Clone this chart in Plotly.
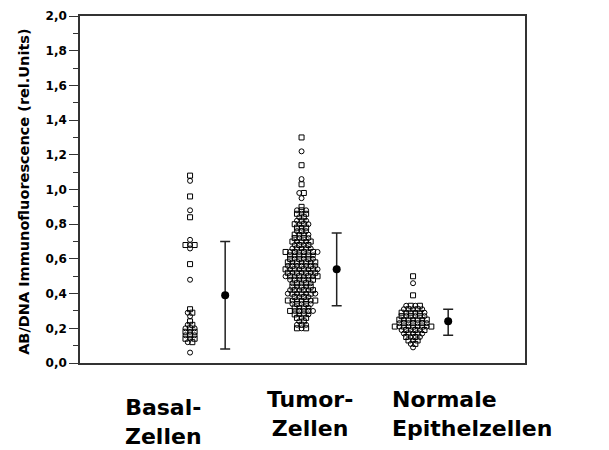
import plotly.graph_objects as go

categories = ["Basal-Zellen", "Tumor-Zellen", "Normale Epithelzellen"]
category_labels = ["Basal-<br>Zellen", "Tumor-<br>Zellen", "Normale<br>Epithelzellen"]

# dot-plot rows: value level and number of points at that level
basal_levels = [1.08, 1.05, 0.96, 0.88, 0.84, 0.71, 0.68, 0.66, 0.57, 0.48,
                0.31, 0.29, 0.27, 0.24, 0.22, 0.20, 0.18, 0.16, 0.14, 0.12, 0.06]
basal_counts = [1, 1, 1, 1, 1, 1, 3, 1, 1, 1,
                1, 2, 1, 1, 2, 3, 3, 3, 3, 2, 1]

tumor_levels = [1.30, 1.22, 1.14, 1.06, 1.03, 0.98, 0.95, 0.90, 0.88, 0.86,
                0.84, 0.82, 0.80, 0.78, 0.76, 0.74, 0.72, 0.70, 0.68, 0.66,
                0.64, 0.62, 0.60, 0.58, 0.56, 0.54, 0.52, 0.50, 0.48, 0.46,
                0.44, 0.42, 0.40, 0.38, 0.36, 0.34, 0.32, 0.30, 0.28, 0.26,
                0.24, 0.22, 0.20]
tumor_counts = [1, 1, 1, 1, 1, 2, 1, 1, 3, 3,
                2, 3, 4, 3, 3, 4, 4, 5, 4, 5,
                8, 6, 6, 7, 7, 8, 7, 8, 6, 5,
                5, 6, 7, 4, 7, 5, 4, 6, 4, 3,
                2, 3, 3]

normal_levels = [0.50, 0.46, 0.39, 0.33, 0.31, 0.29, 0.27, 0.25, 0.23, 0.21,
                 0.19, 0.17, 0.15, 0.13, 0.11, 0.09]
normal_counts = [1, 1, 1, 4, 5, 6, 6, 7, 7, 9,
                 6, 5, 4, 3, 2, 1]

# summary (mean and spread)
means = [0.39, 0.54, 0.24]
upper = [0.70, 0.75, 0.31]
lower = [0.08, 0.33, 0.16]

y_ticks = [0.0, 0.2, 0.4, 0.6, 0.8, 1.0, 1.2, 1.4, 1.6, 1.8, 2.0]
y_title = "AB/DNA Immunofluorescence (rel.Units)"

STEP = 0.041
ERR_OFFSET = 0.315
FONT = "DejaVu Sans, Liberation Sans, Arial"


def swarm(levels, counts, center):
    xs, ys, syms = [], [], []
    k = 0
    for v, n in zip(levels, counts):
        for i in range(n):
            xs.append(center + (i - (n - 1) / 2) * STEP)
            ys.append(v)
            syms.append("square-open" if k % 2 == 0 else "circle-open")
            k += 1
    return xs, ys, syms


fig = go.Figure()
groups = [(basal_levels, basal_counts), (tumor_levels, tumor_counts), (normal_levels, normal_counts)]
for idx, (lv, ct) in enumerate(groups):
    xs, ys, syms = swarm(lv, ct, idx)
    fig.add_trace(go.Scatter(
        x=xs, y=ys, mode="markers", name=categories[idx],
        marker=dict(symbol=syms, size=5, color="black", line=dict(width=1, color="black")),
        showlegend=False, hoverinfo="y"))

fig.add_trace(go.Scatter(
    x=[i + ERR_OFFSET for i in range(3)], y=means, mode="markers",
    marker=dict(symbol="circle", size=8, color="black"),
    error_y=dict(type="data", symmetric=False,
                 array=[u - m for u, m in zip(upper, means)],
                 arrayminus=[m - l for m, l in zip(means, lower)],
                 color="#222222", thickness=1.5, width=5),
    showlegend=False))

label_pos = [(-0.24, "center", -0.0865), (1.076, "center", -0.0634), (1.794, "left", -0.0634)]
for (xp, anch, yp), txt in zip(label_pos, category_labels):
    fig.add_annotation(x=xp, y=yp, xref="x", yref="paper", text="<b>" + txt + "</b>",
                       showarrow=False, xanchor=anch, yanchor="top", align=anch,
                       font=dict(family=FONT, size=22, color="black"))

fig.add_annotation(x=-0.126, y=0.493, xref="paper", yref="paper", text="<b>" + y_title + "</b>",
                   showarrow=False, textangle=-90, xanchor="center", yanchor="middle",
                   font=dict(family=FONT, size=14.5, color="black"))

fig.update_layout(
    width=601, height=442,
    margin=dict(l=72, r=84, t=8, b=87, autoexpand=False),
    paper_bgcolor="white", plot_bgcolor="white",
    separators=",.",
    xaxis=dict(range=[-0.987, 3.004], showgrid=False, zeroline=False, showticklabels=False,
               automargin=False,
               ticks="", showline=True, mirror=True, linecolor="#333333", linewidth=1.5),
    yaxis=dict(range=[0, 2.0], tickvals=y_ticks, tickformat=".1f", showgrid=False, zeroline=False,
               automargin=False,
               ticks="outside", ticklen=9, tickwidth=1, tickcolor="#333333",
               ticklabeloverflow="allow",
               minor=dict(dtick=0.1, ticks="outside", ticklen=5, tickcolor="#333333"),
               showline=True, mirror=True, linecolor="#333333", linewidth=1.5,
               tickfont=dict(family=FONT, size=12, color="black", weight="bold")),
)

fig.write_html("out.html")
